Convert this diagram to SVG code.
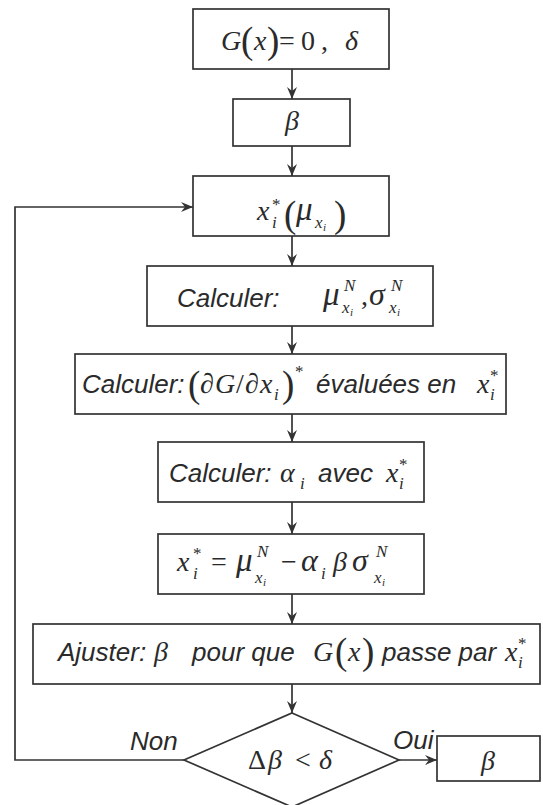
<svg xmlns="http://www.w3.org/2000/svg" width="543" height="805" viewBox="0 0 543 805">
<style>
.box{fill:#fff;stroke:#333;stroke-width:1.7}
.conn{stroke:#333;stroke-width:1.7;fill:none}
.m{font-family:"Liberation Serif","Times New Roman",serif;font-style:italic;font-size:28px;fill:#2a2a2a}
.r{font-style:normal}
.s{font-size:17px}
.ss{font-size:11px}
.p{font-size:37px;font-style:normal}
.w{font-family:"Liberation Sans",Arial,sans-serif;font-style:italic;font-size:26px;fill:#2a2a2a}
</style>
<defs>
<marker id="ah" viewBox="0 0 12 10" refX="12" refY="5" markerWidth="12" markerHeight="10" markerUnits="userSpaceOnUse" orient="auto">
<path d="M0,0 L12,5 L0,10 L4,5 z" fill="#333"/>
</marker>
</defs>
<g id="connectors">
<line class="conn" x1="292" y1="69" x2="292" y2="99" marker-end="url(#ah)"/>
<line class="conn" x1="292" y1="146" x2="292" y2="176" marker-end="url(#ah)"/>
<line class="conn" x1="292" y1="236" x2="292" y2="266" marker-end="url(#ah)"/>
<line class="conn" x1="292" y1="326" x2="292" y2="354" marker-end="url(#ah)"/>
<line class="conn" x1="292" y1="414" x2="292" y2="442" marker-end="url(#ah)"/>
<line class="conn" x1="292" y1="502" x2="292" y2="534" marker-end="url(#ah)"/>
<line class="conn" x1="292" y1="594" x2="292" y2="624" marker-end="url(#ah)"/>
<line class="conn" x1="292" y1="684" x2="292" y2="713" marker-end="url(#ah)"/>
<line class="conn" x1="399" y1="760" x2="437" y2="760" marker-end="url(#ah)"/>
<polyline class="conn" points="184,760 15,760 15,207 193,207" marker-end="url(#ah)"/>
</g>
<g id="n1">
<rect class="box" x="193" y="9" width="196" height="60"/>
<text class="m" y="50"><tspan x="221" y="50">G</tspan><tspan class="p" x="241" y="53">(</tspan><tspan x="254" y="50">x</tspan><tspan class="p" x="267" y="53">)</tspan><tspan class="r" x="279" y="50">=</tspan><tspan class="r" x="301" y="50">0</tspan><tspan class="r" x="321" y="50">,</tspan><tspan x="345" y="50">δ</tspan></text>
</g>
<g id="n2">
<rect class="box" x="233" y="99" width="117" height="47"/>
<text class="m" x="292" y="130" text-anchor="middle" font-size="30">β</text>
</g>
<g id="n3">
<rect class="box" x="193" y="176" width="196" height="60"/>
<text class="m" font-size="30" y="220"><tspan x="257" y="220">x</tspan><tspan class="s" x="272" y="228">i</tspan><tspan class="s r" x="272" y="210">*</tspan><tspan class="p" x="284" y="227">(</tspan><tspan x="296" y="220" font-size="33">μ</tspan><tspan class="s" x="315" y="228">x</tspan><tspan class="ss" x="323" y="231">i</tspan><tspan class="p" x="334" y="227">)</tspan></text>
</g>
<g id="n4">
<rect class="box" x="147" y="266" width="286" height="60"/>
<text class="w" x="177" y="307">Calculer:</text>
<text class="m" font-size="30" y="305"><tspan x="323" y="305" font-size="33">μ</tspan><tspan class="s" x="344" y="291">N</tspan><tspan class="s" x="342" y="313">x</tspan><tspan class="ss" x="350" y="316">i</tspan><tspan class="r" x="361" y="305">,</tspan><tspan x="369" y="305" font-size="32">σ</tspan><tspan class="s" x="391" y="291">N</tspan><tspan class="s" x="389" y="313">x</tspan><tspan class="ss" x="397" y="316">i</tspan></text>
</g>
<g id="n5">
<rect class="box" x="75" y="354" width="431" height="60"/>
<text class="w" x="82" y="393" font-size="23.5">Calculer:</text>
<text class="m" font-size="30" y="393"><tspan class="p" x="188" y="397">(</tspan><tspan class="r" x="200" y="393">∂</tspan><tspan x="215" y="393">G</tspan><tspan class="r" x="236" y="393">/</tspan><tspan class="r" x="245" y="393">∂</tspan><tspan x="260" y="393">x</tspan><tspan class="s" x="274" y="400">i</tspan><tspan class="p" x="282" y="397">)</tspan><tspan class="s r" x="295" y="377">*</tspan></text>
<text class="w" x="316" y="393" font-size="23.5">évaluées en</text>
<text class="m" y="393"><tspan x="477" y="393">x</tspan><tspan class="s" x="490" y="400">i</tspan><tspan class="s r" x="490" y="381">*</tspan></text>
</g>
<g id="n6">
<rect class="box" x="158" y="442" width="266" height="60"/>
<text class="w" x="169" y="482">Calculer:</text>
<text class="m" font-size="32" y="482"><tspan x="280" y="482">α</tspan><tspan class="s" x="300" y="489">i</tspan></text>
<text class="w" x="318" y="482">avec</text>
<text class="m" y="482"><tspan x="386" y="482">x</tspan><tspan class="s" x="399" y="489">i</tspan><tspan class="s r" x="399" y="470">*</tspan></text>
</g>
<g id="n7">
<rect class="box" x="158" y="534" width="266" height="60"/>
<text class="m" font-size="30" y="571"><tspan x="177" y="571">x</tspan><tspan class="s" x="193" y="579">i</tspan><tspan class="s r" x="193" y="559">*</tspan><tspan class="r" x="211" y="571">=</tspan><tspan x="236" y="571" font-size="33">μ</tspan><tspan class="s" x="257" y="557">N</tspan><tspan class="s" x="255" y="583">x</tspan><tspan class="ss" x="263" y="586">i</tspan><tspan class="r" x="281" y="571">−</tspan><tspan x="301" y="571" font-size="32">α</tspan><tspan class="s" x="321" y="579">i</tspan><tspan x="333" y="571">β</tspan><tspan x="352" y="571" font-size="32">σ</tspan><tspan class="s" x="376" y="557">N</tspan><tspan class="s" x="374" y="583">x</tspan><tspan class="ss" x="382" y="586">i</tspan></text>
</g>
<g id="n8">
<rect class="box" x="33" y="624" width="507" height="60"/>
<text class="w" x="58" y="661">Ajuster:</text>
<text class="m" font-size="30" x="154" y="661">β</text>
<text class="w" x="192" y="661">pour que</text>
<text class="m" font-size="30" y="661"><tspan x="313" y="661">G</tspan><tspan class="p" x="335" y="664">(</tspan><tspan x="348" y="661">x</tspan><tspan class="p" x="362" y="664">)</tspan></text>
<text class="w" x="382" y="661">passe par</text>
<text class="m" y="661"><tspan x="505" y="661">x</tspan><tspan class="s" x="518" y="668">i</tspan><tspan class="s r" x="518" y="649">*</tspan></text>
</g>
<g id="n9">
<polygon class="box" points="292,713 399,760 292,807 184,760"/>
<text class="m" font-size="30" y="769"><tspan class="r" x="248" y="769">Δ</tspan><tspan x="268" y="769">β</tspan><tspan class="r" x="295" y="769">&lt;</tspan><tspan x="319" y="769">δ</tspan></text>
</g>
<g id="n10">
<rect class="box" x="437" y="736" width="103" height="45"/>
<text class="m" x="488" y="770" text-anchor="middle" font-size="30">β</text>
</g>
<g id="labels">
<text class="w" x="130" y="750">Non</text>
<text class="w" x="393" y="749">Oui</text>
</g>
</svg>
